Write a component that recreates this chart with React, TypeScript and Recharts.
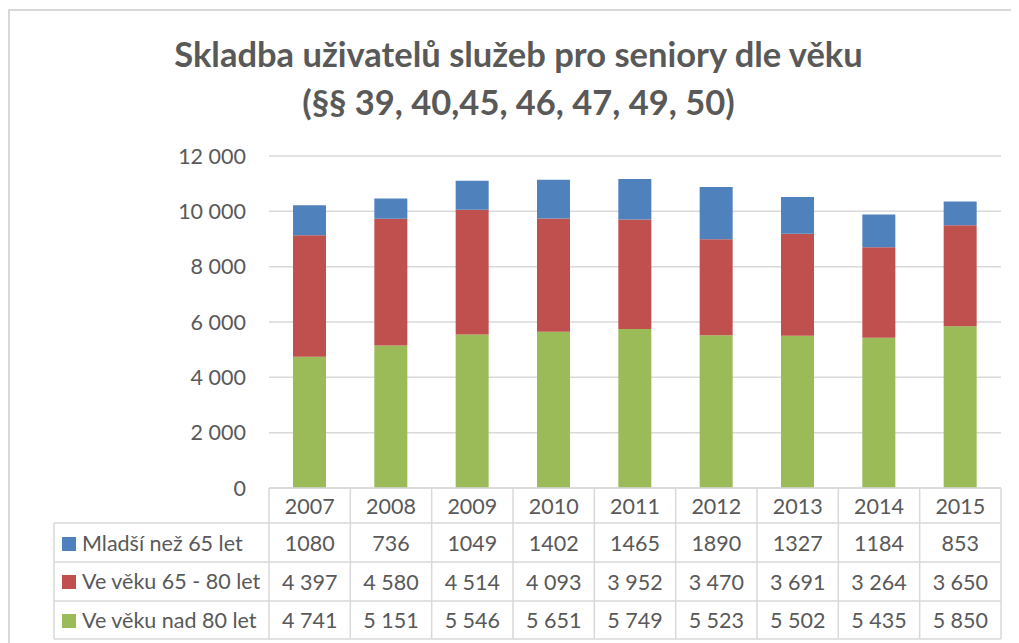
import React from 'react';
import { BarChart, Bar, XAxis, YAxis, CartesianGrid, Legend } from 'recharts';

const years = ['2007', '2008', '2009', '2010', '2011', '2012', '2013', '2014', '2015'];
const mladsi = [1080, 736, 1049, 1402, 1465, 1890, 1327, 1184, 853];
const vek6580 = [4397, 4580, 4514, 4093, 3952, 3470, 3691, 3264, 3650];
const nad80 = [4741, 5151, 5546, 5651, 5749, 5523, 5502, 5435, 5850];
const yTicks = [0, 2000, 4000, 6000, 8000, 10000, 12000];

const seriesNames = {
  mladsi: 'Mladší než 65 let',
  vek6580: 'Ve věku 65 - 80 let',
  nad80: 'Ve věku nad 80 let',
};
const tableOrder = ['mladsi', 'vek6580', 'nad80'];
const titleLines = ['Skladba uživatelů služeb pro seniory dle věku', '(§§ 39, 40,45, 46, 47, 49, 50)'];

const colors = { mladsi: '#4F81BD', vek6580: '#C0504D', nad80: '#9BBB59' };

const data = years.map((y, i) => ({ year: y, mladsi: mladsi[i], vek6580: vek6580[i], nad80: nad80[i] }));

const FONT = 'Lato, "Open Sans", sans-serif';
const TEXT = '#595959';
const LINE = '#d9d9d9';
const FS = 21.5;

const fmt = (v: number) => {
  const s = String(v);
  return s.length > 3 ? s.slice(0, s.length - 3) + '\u00a0' + s.slice(s.length - 3) : s;
};

const W = 1011;
const H = 635;
const PLOT_LEFT = 261;
const PLOT_RIGHT = 993;
const COL_W = (PLOT_RIGHT - PLOT_LEFT) / years.length;
const ROW_LINES = [35, 74, 113, 151];
const ROW_CENTERS = [17.5, 55, 93.5, 132];

const TableTick = (props: any) => {
  const { x, y, payload } = props;
  const i = years.indexOf(String(payload.value));
  const left = x - COL_W / 2;
  const right = x + COL_W / 2;
  const vals = [String(mladsi[i]), fmt(vek6580[i]), fmt(nad80[i])];
  return (
    <g>
      <line x1={left} y1={y} x2={left} y2={y + ROW_LINES[3]} stroke={LINE} strokeWidth={1.5} />
      {i === years.length - 1 && (
        <line x1={right} y1={y} x2={right} y2={y + ROW_LINES[3]} stroke={LINE} strokeWidth={1.5} />
      )}
      {ROW_LINES.map((r) => (
        <line key={r} x1={left} y1={y + r} x2={right} y2={y + r} stroke={LINE} strokeWidth={1.5} />
      ))}
      <text x={x} y={y + ROW_CENTERS[0]} textAnchor="middle" dominantBaseline="central" fill={TEXT} fontSize={FS} fontFamily={FONT}>
        {payload.value}
      </text>
      {vals.map((v, k) => (
        <text key={k} x={x} y={y + ROW_CENTERS[k + 1]} textAnchor="middle" dominantBaseline="central" fill={TEXT} fontSize={FS} fontFamily={FONT}>
          {v}
        </text>
      ))}
    </g>
  );
};

const LegendTable = (props: any) => {
  const items = props.payload || [];
  const payload = tableOrder
    .map((k) => items.find((p: any) => p.dataKey === k))
    .filter(Boolean);
  const lines = [0, 39, 78, 116];
  const centers = [20, 58, 97];
  return (
    <svg width={216} height={118} style={{ display: 'block', overflow: 'visible' }}>
      <line x1={0} y1={0} x2={0} y2={116} stroke={LINE} strokeWidth={1.5} />
      {lines.map((l) => (
        <line key={l} x1={0} y1={l} x2={216} y2={l} stroke={LINE} strokeWidth={1.5} />
      ))}
      {payload.map((p: any, k: number) => (
        <g key={p.value}>
          <rect x={8} y={centers[k] - 6} width={14} height={14} fill={p.color} />
          <text x={28} y={centers[k]} dominantBaseline="central" fill={TEXT} fontSize={FS} fontFamily={FONT}>
            {p.value}
          </text>
        </g>
      ))}
    </svg>
  );
};

export default function App() {
  return (
    <div style={{ position: 'relative', width: W, height: H, overflow: 'hidden', background: '#fff' }}>
      <div
        style={{
          position: 'absolute',
          left: 0,
          top: 1,
          width: 2000,
          height: 2000,
          borderLeft: `2px solid ${LINE}`,
          borderTop: `2px solid ${LINE}`,
        }}
      />
      <svg width={W} height={130} style={{ position: 'absolute', left: 0, top: 0 }}>
        <text x={510.5} y={59} textAnchor="middle" fill={TEXT} fontSize={34.5} fontWeight={700} fontFamily={FONT}>
          {titleLines[0]}
        </text>
        <text x={510.5} y={107} textAnchor="middle" fill={TEXT} fontSize={34.5} fontWeight={700} fontFamily={FONT}>
          {titleLines[1]}
        </text>
      </svg>
      <div style={{ position: 'absolute', left: 0, top: 0 }}>
        <BarChart width={W} height={H} data={data} margin={{ top: 148, right: W - PLOT_RIGHT, bottom: 0, left: 0 }} barSize={33}>
          <CartesianGrid vertical={false} stroke={LINE} strokeWidth={1.5} />
          <YAxis
            width={PLOT_LEFT}
            domain={[0, 12000]}
            ticks={yTicks}
            interval={0}
            tickFormatter={(v: number) => fmt(v)}
            axisLine={false}
            tickLine={false}
            tickSize={0}
            tickMargin={23}
            tick={{ fill: TEXT, fontSize: FS, fontFamily: FONT }}
          />
          <XAxis
            dataKey="year"
            height={H - 480}
            interval={0}
            axisLine={{ stroke: LINE, strokeWidth: 1.5 }}
            tickLine={false}
            tickSize={0}
            tickMargin={0}
            tick={<TableTick />}
          />
          <Legend
            layout="vertical"
            align="center"
            verticalAlign="middle"
            wrapperStyle={{ position: 'absolute', left: 46, top: 515, width: 216, height: 118 }}
            content={<LegendTable />}
          />
          <Bar dataKey="nad80" name={seriesNames.nad80} stackId="a" fill={colors.nad80} isAnimationActive={false} />
          <Bar dataKey="vek6580" name={seriesNames.vek6580} stackId="a" fill={colors.vek6580} isAnimationActive={false} />
          <Bar dataKey="mladsi" name={seriesNames.mladsi} stackId="a" fill={colors.mladsi} isAnimationActive={false} />
        </BarChart>
      </div>
    </div>
  );
}
